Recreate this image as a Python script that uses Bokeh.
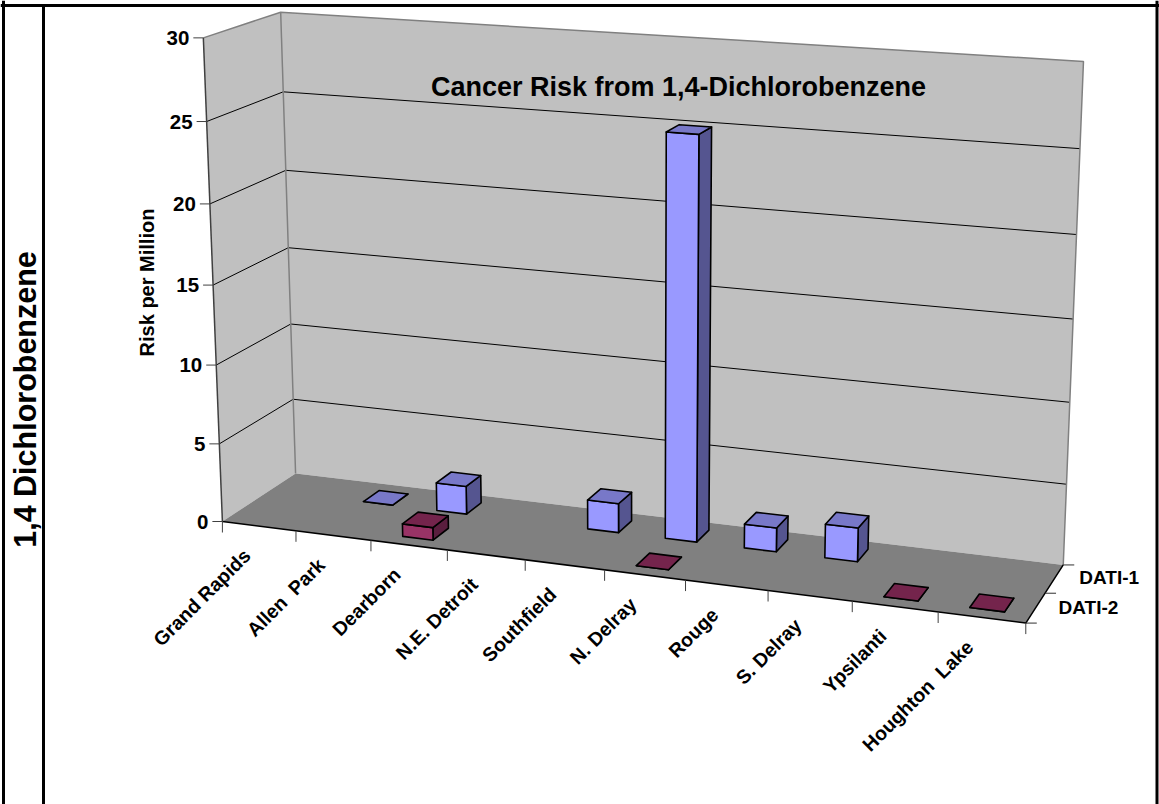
import numpy as np
from bokeh.core.properties import value
from bokeh.embed import file_html
from bokeh.models import Range1d
from bokeh.plotting import figure
from bokeh.resources import INLINE

# Chart content
TITLE = "Cancer Risk from 1,4-Dichlorobenzene"
SIDE_LABEL = "1,4 Dichlorobenzene"
Y_LABEL = "Risk per Million"
# A no-break space keeps the wider word gap in two of the names when drawn as SVG text
categories = ["Grand Rapids", "Allen\u00a0 Park", "Dearborn", "N.E. Detroit", "Southfield",
              "N. Delray", "Rouge", "S. Delray", "Ypsilanti", "Houghton\u00a0 Lake"]
series_names = ["DATI-1", "DATI-2"]
dati_1 = [None, 0.0, 1.8, None, 1.85, 25.0, 1.5, 2.1, None, None]
dati_2 = [None, None, 0.8, None, None, 0.0, None, None, 0.0, 0.0]
y_ticks = [0, 5, 10, 15, 20, 25, 30]
Y_MAX = 30

# Camera: where box corners (column, depth, value fraction) land on the page
corners = [((0, 0, 0), (222, 521)), ((1, 0, 0), (1025, 623)),
           ((0, 1, 0), (295, 473)), ((1, 1, 0), (1063, 564)),
           ((0, 0, 1), (203, 37)), ((0, 1, 1), (280, 12)), ((1, 1, 1), (1083, 61))]


def solve_camera(pairs):
    rows = []
    for (a, b, c), (x, y) in pairs:
        rows.append([a, b, c, 1, 0, 0, 0, 0, -x * a, -x * b, -x * c, -x])
        rows.append([0, 0, 0, 0, a, b, c, 1, -y * a, -y * b, -y * c, -y])
    return np.linalg.svd(np.array(rows, float))[2][-1].reshape(3, 4)


CAM = solve_camera(corners)
NCAT = len(categories)


def project(cat, depth, val):
    """Category units, depth 0-1 front to back, value in risk units -> page pixels."""
    h = CAM @ np.array([cat / NCAT, depth, val / Y_MAX, 1.0])
    return h[0] / h[2], h[1] / h[2]


def poly(points):
    xy = [project(*pt) for pt in points]
    return [q[0] for q in xy], [q[1] for q in xy]


p = figure(width=1159, height=804, x_range=Range1d(0, 1159), y_range=Range1d(804, 0),
           output_backend="svg", toolbar_location=None, min_border=0,
           background_fill_color="white", border_fill_color="white", outline_line_color=None)
p.axis.visible = False
p.grid.visible = False

FONT = value("Liberation Sans")


def label(x, y, s, size, align="center", baseline="middle", angle=0.0):
    p.text([x], [y], text=[s], text_font=FONT, text_font_style="bold",
           text_font_size=size, text_align=align, text_baseline=baseline,
           text_color="black", angle=angle)


# Surrounding table rules
for xs, ys in [([0, 1159], [5, 5]), ([3, 3], [0, 804]), ([43, 43], [5, 804]), ([1156.5, 1156.5], [0, 804])]:
    p.line(xs, ys, line_color="black", line_width=3)

# Walls and floor
WALL = "#C0C0C0"
EDGE = "#808080"
x, y = poly([(0, 0, 0), (0, 1, 0), (0, 1, Y_MAX), (0, 0, Y_MAX)])
p.patch(x, y, fill_color=WALL, line_color=None)
x, y = poly([(0, 1, 0), (NCAT, 1, 0), (NCAT, 1, Y_MAX), (0, 1, Y_MAX)])
p.patch(x, y, fill_color=WALL, line_color=None)

for t in y_ticks[1:-1]:
    x, y = poly([(0, 0, t), (0, 1, t), (NCAT, 1, t)])
    p.line(x, y, line_color="black", line_width=1)

for seg in ([(0, 0, Y_MAX), (0, 1, Y_MAX), (NCAT, 1, Y_MAX), (NCAT, 1, 0)],
            [(0, 1, 0), (0, 1, Y_MAX)]):
    x, y = poly(seg)
    p.line(x, y, line_color=EDGE, line_width=1.5)

x, y = poly([(0, 0, 0), (NCAT, 0, 0), (NCAT, 1, 0), (0, 1, 0)])
p.patch(x, y, fill_color=EDGE, line_color=None)

# Axis lines and ticks
x, y = poly([(0, 0, 0), (0, 0, Y_MAX)])
p.line(x, y, line_color="#404040", line_width=1.5)
x, y = poly([(0, 0, 0), (NCAT, 0, 0), (NCAT, 1, 0)])
p.line(x, y, line_color="black", line_width=1.5)

for t in y_ticks:
    tx, ty = project(0, 0, t)
    p.line([tx - 10, tx], [ty, ty], line_color="#404040", line_width=1)
    label(tx - 14, ty, str(t), "20.5px", align="right")

for c in range(NCAT + 1):
    tx, ty = project(c, 0, 0)
    p.line([tx, tx], [ty, ty + 11], line_color="#404040", line_width=1)

for d in (0, 0.5, 1):
    tx, ty = project(NCAT, d, 0)
    p.line([tx, tx + 11], [ty, ty], line_color="#303030", line_width=1)

for c, name in enumerate(categories):
    tx, ty = project(c + 0.5, 0, 0)
    label(tx - 12, ty + 26, name, "19.5px", align="right", angle=np.pi / 4)

for name, d, dx, dy in [(series_names[0], 0.75, 25, -1), (series_names[1], 0.25, 23, 0)]:
    tx, ty = project(NCAT, d, 0)
    label(tx + dx, ty + dy, name, "19px", align="left")

# Bars: one lane of the depth axis per series, back lane first
BAR_WIDTH = 0.40
BAR_DEPTH = 0.23
styles = [
    (dati_1, 0.64, "#9999FF", "#7878C8", "#555590"),
    (dati_2, 0.13, "#993366", "#74244C", "#5A1E3E"),
]
for vals, d0, face, top, side in styles:
    d1 = d0 + BAR_DEPTH
    for c, v in enumerate(vals):
        if v is None:
            continue
        u0 = c + 0.5 - BAR_WIDTH / 2
        u1 = u0 + BAR_WIDTH
        faces = [
            ([(u1, d0, 0), (u1, d1, 0), (u1, d1, v), (u1, d0, v)], side),
            ([(u0, d0, 0), (u1, d0, 0), (u1, d0, v), (u0, d0, v)], face),
            ([(u0, d0, v), (u1, d0, v), (u1, d1, v), (u0, d1, v)], top),
        ]
        for pts, color in faces:
            x, y = poly(pts)
            p.patch(x, y, fill_color=color, line_color="black", line_width=1.6, line_join="round")

# Titles
label(678, 86, TITLE, "27px")
label(146, 282, Y_LABEL, "20px", angle=np.pi / 2)
label(24, 399, SIDE_LABEL, "30.5px", angle=np.pi / 2)

open("out.html", "w").write(file_html(p, INLINE))
